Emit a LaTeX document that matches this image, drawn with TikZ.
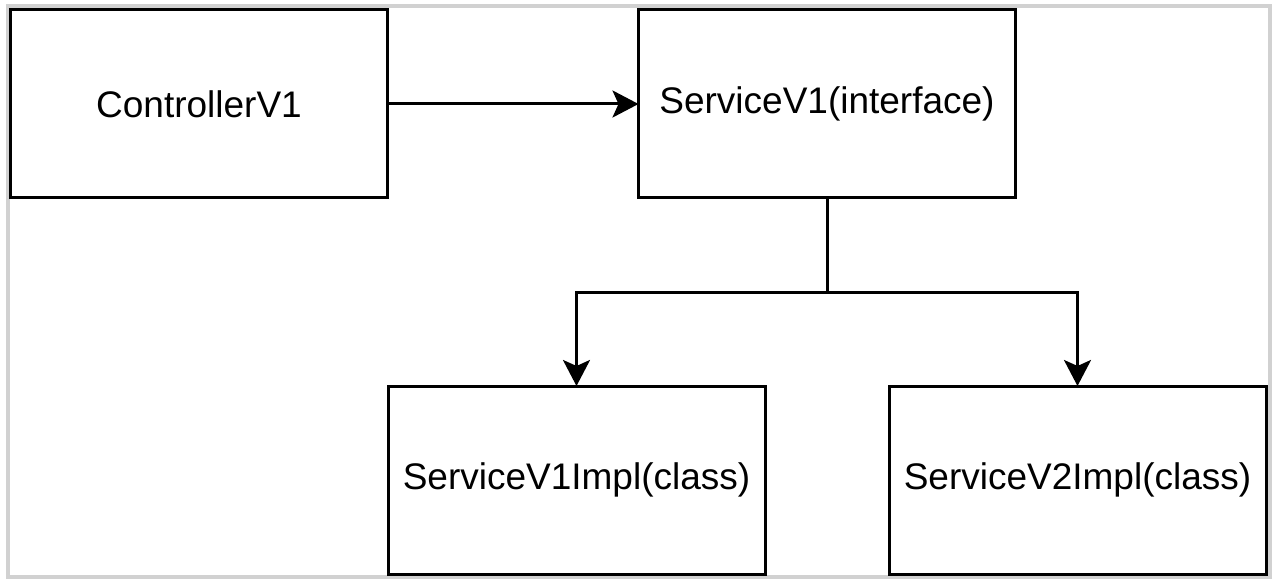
\documentclass[tikz,border=0pt]{standalone}
\usepackage{fontspec}
\setmainfont{Liberation Sans}
\usetikzlibrary{positioning,arrows.meta}

\begin{document}
\begin{tikzpicture}[->,>={Stealth[length=26pt,width=27pt,inset=6pt]},line width=3pt,
    node distance=188pt and 251pt,
    box/.style={rectangle,draw,outer sep=0pt,minimum width=377pt,minimum height=188pt,
      font=\fontsize{37}{42}\selectfont}]

  \useasboundingbox (0,0) rectangle (1280pt,-588pt);
  \draw[-,black!18,line width=4pt] (7.5pt,-6.5pt) rectangle (1270pt,-577pt);

  \node[box] (ctrl) at (199pt,-104pt) {ControllerV1};
  \node[box] (svc) [right=of ctrl]                  {ServiceV1(interface)};
  \node[box] (impl1) [below=of svc,xshift=-250.5pt] {ServiceV1Impl(class)};
  \node[box] (impl2) [below=of svc,xshift=250.5pt]  {ServiceV2Impl(class)};

  % Call
  \path (ctrl) edge (svc);

  % Implementations
  \draw (svc.south) -- ++(0,-94pt) -| (impl1.north);
  \draw (svc.south) -- ++(0,-94pt) -| (impl2.north);

\end{tikzpicture}
\end{document}
